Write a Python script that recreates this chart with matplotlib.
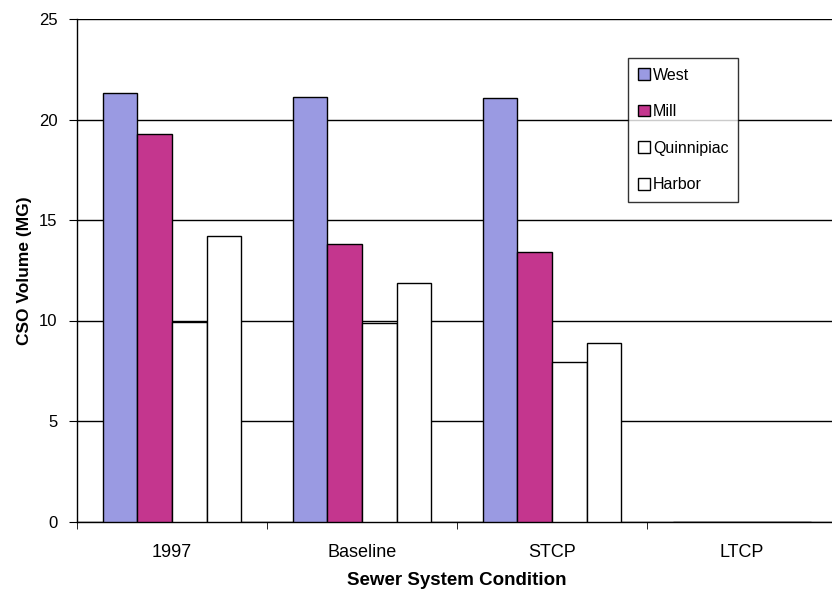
import numpy as np
import matplotlib.pyplot as plt

conditions = ['1997', 'Baseline', 'STCP', 'LTCP']
series = ['West', 'Mill', 'Quinnipiac', 'Harbor']
west = [21.3, 21.1, 21.05, 0]
mill = [19.3, 13.8, 13.4, 0]
quinnipiac = [9.95, 9.9, 7.95, 0]
harbor = [14.2, 11.85, 8.87, 0]
colors = ['#9a9ae2', '#c4368e', 'white', 'white']

plt.rcParams['font.family'] = ['Liberation Sans', 'DejaVu Sans']

fig = plt.figure(figsize=(8.32, 5.92), dpi=100)
ax = fig.add_axes([77/832, 1 - 521.5/592, 760/832, 502.5/592])

x = np.arange(len(conditions))
w = 0.1816
for i, (name, vals) in enumerate(zip(series, [west, mill, quinnipiac, harbor])):
    ax.bar(x + (i - 1.5) * w, vals, w, color=colors[i], edgecolor='black',
           linewidth=1.0, label=name, zorder=3)

ax.set_xlim(-0.5, 3.5)
ax.set_ylim(0, 25)
ax.set_yticks(np.arange(0, 26, 5))
ax.yaxis.grid(True, color='black', linewidth=1.0, zorder=0)
ax.set_axisbelow(True)

ax.set_xticks(x)
ax.set_xticklabels(conditions, fontsize=13)
ax.set_xticks(np.arange(-0.5, 4, 1), minor=True)
ax.tick_params(axis='x', which='major', length=0, pad=16)
ax.tick_params(axis='x', which='minor', length=5, direction='out')
ax.tick_params(axis='y', length=6, labelsize=12, pad=8)

for s in ['top', 'right']:
    ax.spines[s].set_visible(False)
ax.spines['left'].set_linewidth(1.0)
ax.spines['bottom'].set_linewidth(1.0)

ax.set_ylabel('CSO Volume (MG)', fontsize=12.5, fontweight='bold', labelpad=5)
ax.set_xlabel('Sewer System Condition', fontsize=13.5, fontweight='bold', labelpad=8)

# legend box with wide row spacing like the original
leg = fig.legend(loc='upper left', bbox_to_anchor=(628/832, 1 - 58/592),
                 fontsize=11.5, frameon=True, fancybox=False, borderaxespad=0,
                 labelspacing=1.35, handlelength=0.75, handleheight=0.75,
                 handletextpad=0.2, borderpad=0.6)
leg.get_frame().set_edgecolor('black')
leg.get_frame().set_linewidth(1.0)

fig.savefig('out.png', dpi=100)
